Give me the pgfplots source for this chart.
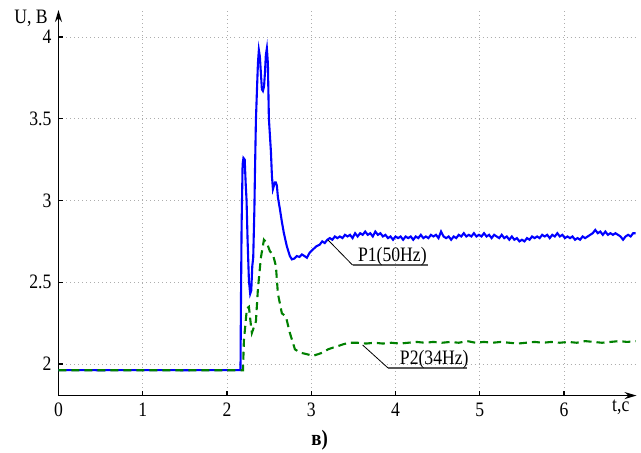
\documentclass[border=0pt]{standalone}
\usepackage{fontspec}
\setmainfont{Liberation Serif}[FakeStretch=0.86]
\usepackage{pgfplots}
\pgfplotsset{compat=1.18}
\usetikzlibrary{arrows.meta}
\definecolor{pblue}{RGB}{0,0,255}
\definecolor{pgreen}{RGB}{0,128,0}
\begin{document}
\fontsize{20.5}{23}\selectfont
\begin{tikzpicture}
\begin{axis}[scale only axis, width=578pt, height=385.5pt,
 xmin=0, xmax=6.86, ymin=1.807, ymax=4.165,
 axis lines=left,
 axis line style={line width=1.4pt, -{Stealth[length=12pt,width=7pt]}},
 xtick={0,1,...,6}, ytick={2,2.5,3,3.5,4},
 tick align=inside, major tick length=5pt,
 tick style={line width=1.2pt, black},
 grid=major,
 major grid style={black!32, line width=0.9pt, dash pattern=on 1pt off 3pt},
 /pgf/number format/assume math mode=true,
 clip=false]
\addplot[pblue, line width=2.1pt] coordinates {
(0,1.963) (0.5,1.962) (1,1.963) (1.5,1.962) (2,1.963) (2.160,1.963)
(2.165,2.34) (2.173,2.84) (2.185,3.22) (2.195,3.26) (2.210,3.25) (2.222,3.10)
(2.232,3.00) (2.244,2.76) (2.260,2.51) (2.275,2.43) (2.288,2.45) (2.300,2.60)
(2.311,2.65) (2.325,2.95) (2.331,3.15) (2.343,3.49) (2.355,3.67) (2.367,3.84)
(2.378,3.92) (2.390,3.88) (2.402,3.78) (2.414,3.68) (2.426,3.67) (2.440,3.70)
(2.450,3.78) (2.461,3.89) (2.473,3.93) (2.485,3.84) (2.497,3.50) (2.509,3.40)
(2.521,3.30) (2.533,3.15) (2.545,3.07) (2.556,3.09) (2.568,3.11) (2.580,3.11)
(2.592,3.09) (2.604,3.02) (2.627,2.95) (2.651,2.87) (2.675,2.80) (2.710,2.72)
(2.746,2.66) (2.770,2.64) (2.80,2.645) (2.829,2.66) (2.86,2.655) (2.889,2.67)
(2.92,2.66) (2.948,2.65) (2.98,2.68) (3.019,2.70)
(3.06,2.72) (3.10,2.73) (3.13,2.75) (3.16,2.74) (3.19,2.76) (3.22,2.77)
(3.25,2.76) (3.28,2.78) (3.31,2.77) (3.34,2.78) (3.37,2.77) (3.40,2.79)
(3.43,2.78) (3.46,2.79) (3.49,2.77) (3.52,2.80) (3.55,2.78) (3.58,2.80)
(3.61,2.79) (3.64,2.81) (3.67,2.79) (3.70,2.80) (3.73,2.78) (3.76,2.81)
(3.79,2.79) (3.82,2.80) (3.85,2.78) (3.88,2.79) (3.91,2.77) (3.94,2.78)
(3.97,2.76) (4.00,2.78) (4.03,2.77) (4.06,2.78) (4.09,2.76) (4.12,2.78)
(4.15,2.77) (4.18,2.78) (4.21,2.76) (4.24,2.78) (4.27,2.77) (4.30,2.79)
(4.33,2.77) (4.36,2.78) (4.39,2.77) (4.42,2.79) (4.45,2.78) (4.48,2.79)
(4.51,2.77) (4.54,2.81) (4.57,2.78) (4.60,2.77) (4.63,2.78) (4.66,2.76)
(4.69,2.78) (4.72,2.77) (4.75,2.79) (4.78,2.78) (4.81,2.80) (4.84,2.78)
(4.87,2.79) (4.90,2.78) (4.93,2.80) (4.96,2.78) (4.99,2.79) (5.02,2.78)
(5.05,2.80) (5.08,2.78) (5.11,2.79) (5.14,2.77) (5.17,2.79) (5.20,2.78)
(5.23,2.77) (5.26,2.79) (5.29,2.77) (5.32,2.78) (5.35,2.76) (5.38,2.78)
(5.41,2.76) (5.44,2.77) (5.47,2.75) (5.50,2.76) (5.53,2.75) (5.56,2.77)
(5.59,2.76) (5.62,2.78) (5.65,2.77) (5.68,2.78) (5.71,2.77) (5.74,2.79)
(5.77,2.78) (5.80,2.79) (5.83,2.77) (5.86,2.79) (5.89,2.78) (5.92,2.80)
(5.95,2.78) (5.98,2.79) (6.01,2.77) (6.04,2.78) (6.07,2.77) (6.10,2.78)
(6.13,2.76) (6.16,2.77) (6.19,2.76) (6.22,2.78) (6.25,2.77) (6.28,2.78)
(6.31,2.79) (6.34,2.80) (6.37,2.82) (6.40,2.80) (6.43,2.81) (6.46,2.79)
(6.49,2.81) (6.52,2.79) (6.55,2.80) (6.58,2.79) (6.61,2.80) (6.64,2.79)
(6.67,2.78) (6.70,2.76) (6.73,2.78) (6.76,2.79) (6.79,2.78) (6.82,2.80)
(6.85,2.80)};
\addplot[pgreen, line width=2.1pt, dash pattern=on 8pt off 5pt] coordinates {
(0,1.962) (0.5,1.962) (1,1.962) (1.5,1.962) (2,1.962) (2.19,1.962)
(2.200,2.14) (2.236,2.34) (2.260,2.35) (2.283,2.24) (2.295,2.19) (2.343,2.26)
(2.367,2.46) (2.402,2.65) (2.438,2.76) (2.473,2.74) (2.509,2.69) (2.545,2.67)
(2.580,2.60) (2.604,2.43) (2.651,2.31) (2.699,2.29) (2.746,2.19) (2.806,2.09)
(2.865,2.07) (2.948,2.06) (3.019,2.05) (3.08,2.06) (3.137,2.07) (3.20,2.09)
(3.256,2.10) (3.32,2.11) (3.375,2.12) (3.45,2.13) (3.55,2.13) (3.65,2.125)
(3.75,2.13) (3.85,2.125) (3.95,2.13) (4.05,2.125) (4.15,2.13) (4.25,2.135)
(4.35,2.13) (4.45,2.135) (4.55,2.13) (4.65,2.135) (4.75,2.13) (4.85,2.14)
(4.95,2.13) (5.05,2.135) (5.15,2.13) (5.25,2.135) (5.35,2.13) (5.45,2.125)
(5.55,2.13) (5.65,2.135) (5.75,2.13) (5.85,2.135) (5.95,2.13) (6.05,2.135)
(6.15,2.13) (6.25,2.14) (6.35,2.135) (6.45,2.13) (6.55,2.135) (6.65,2.14)
(6.75,2.135) (6.85,2.14)};
\draw[black, line width=0.8pt] (axis cs:3.20,2.758) -- (axis cs:3.49,2.605);
\draw[black!65, line width=1.2pt] (axis cs:3.49,2.605) -- (axis cs:4.39,2.605);
\node[anchor=base west, inner sep=0pt] at (axis cs:3.553,2.625) {P1(50Hz)};
\draw[black, line width=0.8pt] (axis cs:3.61,2.116) -- (axis cs:3.91,1.976);
\draw[black!65, line width=1.2pt] (axis cs:3.91,1.976) -- (axis cs:4.85,1.976);
\node[anchor=base west, inner sep=0pt] at (axis cs:4.05,1.994) {P2(34Hz)};
\node at (axis cs:-0.326,4.116) {U, В};
\node at (axis cs:6.673,1.737) {t,с};
\node at (axis cs:3.10,1.535) {\fontsize{22}{24}\selectfont\bfseries в)};
\coordinate (bbl) at (axis cs:-0.694,1.4557);
\coordinate (btr) at (axis cs:6.913,4.2263);
\end{axis}
\pgfresetboundingbox
\path (bbl) rectangle (btr);
\end{tikzpicture}
\end{document}
